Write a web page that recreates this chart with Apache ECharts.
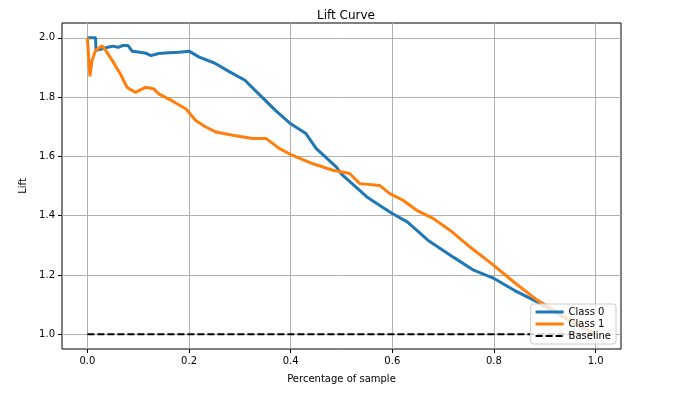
<!DOCTYPE html>
<html>
<head>
<meta charset="utf-8">
<script src="https://cdn.jsdelivr.net/npm/echarts@6/dist/echarts.min.js"></script>
<style>
  html, body { margin: 0; padding: 0; background: #fff; }
  #chart { width: 683px; height: 396px; }
</style>
</head>
<body>
<div id="chart"></div>
<script>
const xTicks = [0, 0.2, 0.4, 0.6, 0.8, 1.0];
const yTicks = [1.0, 1.2, 1.4, 1.6, 1.8, 2.0];

const class0X = [0, 0.016, 0.017, 0.03, 0.04, 0.05, 0.06, 0.07, 0.08, 0.088, 0.1, 0.115, 0.125, 0.14, 0.16, 0.18, 0.2, 0.22, 0.25, 0.28, 0.31, 0.34, 0.37, 0.40, 0.43, 0.45, 0.49, 0.50, 0.55, 0.58, 0.60, 0.63, 0.67, 0.72, 0.76, 0.80, 0.84, 0.885, 0.92, 0.96, 1.0];
const class0Y = [2.0, 2.0, 1.958, 1.963, 1.968, 1.972, 1.968, 1.974, 1.974, 1.955, 1.952, 1.948, 1.94, 1.947, 1.95, 1.951, 1.955, 1.935, 1.915, 1.885, 1.857, 1.806, 1.755, 1.71, 1.677, 1.627, 1.564, 1.54, 1.463, 1.429, 1.407, 1.378, 1.317, 1.26, 1.216, 1.188, 1.148, 1.109, 1.075, 1.035, 1.0];

const class1X = [0, 0.003, 0.005, 0.009, 0.016, 0.029, 0.035, 0.049, 0.065, 0.078, 0.085, 0.095, 0.105, 0.115, 0.131, 0.141, 0.167, 0.194, 0.213, 0.233, 0.253, 0.286, 0.325, 0.352, 0.378, 0.404, 0.444, 0.483, 0.516, 0.536, 0.575, 0.595, 0.621, 0.648, 0.681, 0.714, 0.753, 0.799, 0.839, 0.885, 0.94, 1.0];
const class1Y = [2.0, 2.0, 1.87, 1.923, 1.957, 1.973, 1.96, 1.923, 1.878, 1.833, 1.825, 1.816, 1.825, 1.833, 1.827, 1.81, 1.787, 1.76, 1.721, 1.699, 1.682, 1.671, 1.66, 1.66, 1.626, 1.603, 1.575, 1.553, 1.542, 1.508, 1.502, 1.474, 1.452, 1.418, 1.39, 1.35, 1.294, 1.233, 1.176, 1.115, 1.058, 1.0];

const baselineX = [0, 1];
const baselineY = [1, 1];

const pairs = (xs, ys) => xs.map((x, i) => [x, ys[i]]);

const chart = echarts.init(document.getElementById('chart'));
const font = 'DejaVu Sans';
const solidIcon = 'path://M0,0h28v3h-28z';
const dashIcon = 'path://M0,0h7v2h-7z M10,0h7v2h-7z M20,0h7v2h-7z M28,0h0.01v2h-0.01z';

chart.setOption({
  animation: false,
  title: {
    text: 'Lift Curve',
    left: 341, top: 5, textAlign: 'center',
    textStyle: { fontFamily: font, fontSize: 12, fontWeight: 'normal', color: '#000' }
  },
  grid: {
    left: 62, right: 62, top: 23, bottom: 47,
    show: true, borderColor: '#000', borderWidth: 1, backgroundColor: '#fff'
  },
  legend: {
    orient: 'vertical', right: 67, bottom: 52,
    itemWidth: 28, itemHeight: 13, itemGap: 2,
    padding: [3, 5],
    backgroundColor: 'rgba(255,255,255,0.8)', borderColor: '#ccc', borderWidth: 1, borderRadius: 3,
    textStyle: { fontFamily: font, fontSize: 10, color: '#000' },
    data: [
      { name: 'Class 0', icon: solidIcon },
      { name: 'Class 1', icon: solidIcon },
      { name: 'Baseline', icon: dashIcon }
    ]
  },
  xAxis: {
    type: 'value', min: -0.05, max: 1.05,
    name: 'Percentage of sample', nameLocation: 'middle', nameGap: 25,
    nameTextStyle: { fontFamily: font, fontSize: 10, color: '#000' },
    axisLine: { show: false, onZero: false },
    axisTick: { show: true, length: 4, customValues: xTicks, lineStyle: { color: '#000' } },
    axisLabel: { customValues: xTicks, fontFamily: font, fontSize: 10, color: '#000', margin: 7,
      formatter: v => v.toFixed(1) },
    splitLine: { show: true, lineStyle: { color: '#b0b0b0', width: 1 } }
  },
  yAxis: {
    type: 'value', min: 0.95, max: 2.05,
    name: 'Lift', nameLocation: 'middle', nameGap: 32,
    nameTextStyle: { fontFamily: font, fontSize: 10, color: '#000' },
    axisLine: { show: false, onZero: false },
    axisTick: { show: true, length: 4, customValues: yTicks, lineStyle: { color: '#000' } },
    axisLabel: { customValues: yTicks, fontFamily: font, fontSize: 10, color: '#000', margin: 7,
      formatter: v => v.toFixed(1) },
    splitLine: { show: true, lineStyle: { color: '#b0b0b0', width: 1 } }
  },
  series: [
    {
      name: 'Class 0', type: 'line', symbol: 'none', data: pairs(class0X, class0Y),
      lineStyle: { color: '#1f77b4', width: 3 }, itemStyle: { color: '#1f77b4' }
    },
    {
      name: 'Class 1', type: 'line', symbol: 'none', data: pairs(class1X, class1Y),
      lineStyle: { color: '#ff7f0e', width: 3 }, itemStyle: { color: '#ff7f0e' }
    },
    {
      name: 'Baseline', type: 'line', symbol: 'none', data: pairs(baselineX, baselineY),
      lineStyle: { color: '#000', width: 2, type: [7, 3] }, itemStyle: { color: '#000' }
    }
  ]
});
</script>
</body>
</html>
